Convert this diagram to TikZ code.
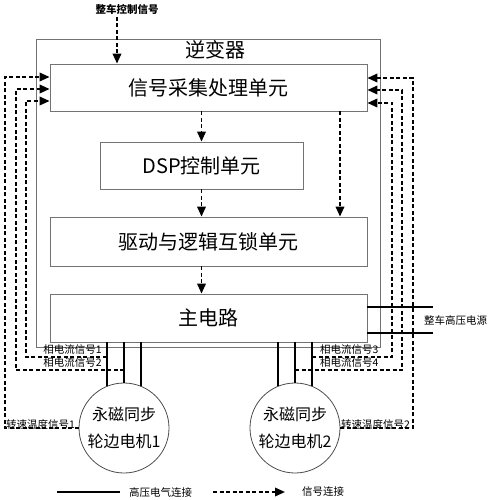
\documentclass[tikz,border=0pt]{standalone}
\usepackage{fontspec}
\setmainfont{Noto Sans CJK SC}
\usetikzlibrary{positioning,arrows.meta}

\begin{document}
\begin{tikzpicture}[x=1pt,y=-1pt,
  box/.style={draw=black!55,line width=0.8pt,inner sep=0pt},
  sigline/.style={line width=1.9pt,dash pattern=on 4pt off 2.5pt},
  sig/.style={sigline,-{Triangle[length=10pt,width=8.5pt]}},
  hv/.style={line width=1.7pt},
  big/.style={font=\fontsize{20}{24}\selectfont},
  lbl/.style={font=\fontsize{10.5}{12}\selectfont,inner sep=1pt},
  motor/.style={draw=black!70,line width=0.8pt,circle,minimum size=90pt,inner sep=0pt,
    align=center,font=\fontsize{16}{27}\selectfont}]
\useasboundingbox (0,0) rectangle (492,500);
% inverter and its units
\node[box,minimum width=344pt,minimum height=308pt] (inv) at (208,193) {};
\node[big] (invlbl) at (215,50) {逆变器};
\node[box,big,fill=white,minimum width=317pt,minimum height=47pt] (sig) at (208.5,87.5) {信号采集处理单元};
\node[box,big,minimum width=203pt,minimum height=47pt] (dsp) at (201.5,165.5) {DSP控制单元};
\node[box,big,minimum width=317pt,minimum height=49pt] (drv) at (208.5,241.5) {驱动与逻辑互锁单元};
\node[box,big,minimum width=317pt,minimum height=48pt] (main) at (208.5,318) {主电路};
% motors
\node[motor] (m1) at (124,428) {永磁同步\\轮边电机1};
\node[motor] (m2) at (295,428) {永磁同步\\轮边电机2};
% labels
\node[lbl,font=\fontsize{10.5}{12}\selectfont\bfseries] (vcu) at (127,9) {整车控制信号};
\node[lbl,anchor=south east] (pc1) at (103,356) {相电流信号1};
\node[lbl,anchor=south east] (pc2) at (103,369) {相电流信号2};
\node[lbl,anchor=south west] (pc3) at (319,356) {相电流信号3};
\node[lbl,anchor=south west] (pc4) at (319,369) {相电流信号4};
\node[lbl,anchor=south west] (sp1) at (5,431) {转速温度信号1};
\node[lbl,anchor=south west] (sp2) at (340,431) {转速温度信号2};
\node[lbl,anchor=west] (hvs) at (423,320) {整车高压电源};
\node[lbl,anchor=west] (leghv) at (128,492) {高压电气连接};
\node[lbl,anchor=west] (legsig) at (301,492) {信号连接};
% helper points
\coordinate (vc) at (117,17);
\coordinate (tap) at (340,0);
\coordinate (ya) at (0,357);
\coordinate (yb) at (0,370);
\coordinate (l1) at (5,77);
\coordinate (l2) at (16,89);
\coordinate (l3) at (26,101);
\coordinate (r1) at (413,78);
\coordinate (r2) at (402,90);
\coordinate (r3) at (392,103);
\coordinate (p1) at (433,307);
\coordinate (p2) at (433,333);
\coordinate (lg1) at (57,492);
\coordinate (lg2) at (120,492);
\coordinate (lg3) at (213,492);
\coordinate (lg4) at (285,492);
% signal flow
\draw[sig] (vc) -- (vc |- sig.north);
\draw[sig] (dsp.north |- sig.south) -- (dsp.north);
\draw[sig] (dsp.south) -- (dsp.south |- drv.north);
\draw[sig] (dsp.south |- drv.south) -- (dsp.south |- main.north);
\draw[sig] (tap |- sig.south) -- (tap |- drv.north);
% phase wires
\foreach \m in {m1,m2} {
  \foreach \a in {112,90,68}
    \draw[hv] (\m.\a |- main.south) -- (\m.\a);
}
% feedback
\draw[sig] (m1.west) -| (l1) -- (l1 -| sig.west);
\draw[sig] (m1.90 |- yb) -| (l2) -- (l2 -| sig.west);
\draw[sig] (m1.112 |- ya) -| (l3) -- (l3 -| sig.west);
\draw[sig] (m2.east) -| (r1) -- (r1 -| sig.east);
\draw[sig] (m2.90 |- yb) -| (r2) -- (r2 -| sig.east);
\draw[sig] (m2.68 |- ya) -| (r3) -- (r3 -| sig.east);
% supply
\draw[hv] (p1 -| main.east) -- (p1);
\draw[hv] (p2 -| main.east) -- (p2);
% legend
\draw[hv] (lg1) -- (lg2);
\draw[sig] (lg3) -- (lg4);
\end{tikzpicture}
\end{document}
